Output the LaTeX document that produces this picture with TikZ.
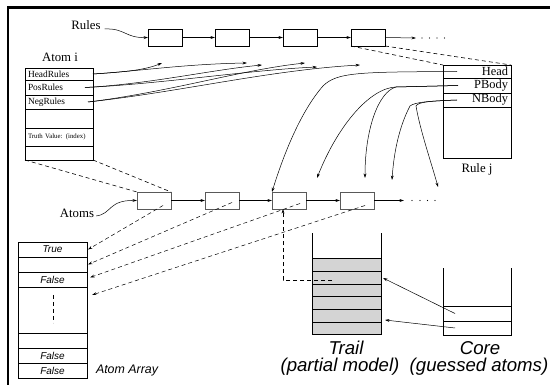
\documentclass[tikz,border=0pt]{standalone}
\usepackage{fontspec}
\setmainfont{Liberation Serif}
\setsansfont{Liberation Sans}
\usetikzlibrary{arrows.meta}
\newcommand\myfs[1]{\fontsize{#1}{#1}\selectfont}
\begin{document}
\begin{tikzpicture}[x=1pt,y=-1pt,
  every node/.style={inner sep=0pt, outer sep=0pt},
  arr/.style={-{Stealth[length=4.5pt,width=2.8pt]}, line width=0.5pt},
  dsh/.style={dash pattern=on 4pt off 3pt, line width=0.6pt},
  rbox/.style={draw, line width=0.6pt, minimum width=34pt, minimum height=17pt, anchor=north west},
  abox/.style={draw=black!65, line width=0.8pt, minimum width=34pt, minimum height=17pt, anchor=north west},
  acell/.style={draw, line width=0.6pt, anchor=north west, minimum width=68pt, text width=62pt, align=left, font=\myfs{9.4}},
  rcell/.style={draw, line width=0.6pt, anchor=north west, minimum width=68pt, text width=62pt, align=right, font=\myfs{12.4}},
  arcell/.style={draw, line width=0.6pt, anchor=north west, minimum width=69pt, font=\sffamily\itshape\myfs{10}},
  tcell/.style={draw, line width=1pt, fill=black!17, anchor=north west, minimum width=69pt, minimum height=12.67pt},
  ccell/.style={draw, line width=0.8pt, anchor=north west, minimum width=68pt},
  lbl/.style={font=\myfs{12.8}},
  big/.style={font=\sffamily\itshape\myfs{18.6}, anchor=base}
]
\useasboundingbox (0,0) rectangle (550,385);
% frame
\draw[line width=2.5pt] (8,385) -- (8,7.5) -- (550,7.5);

% labels
\node[lbl] (rulesl) at (86,25) {Rules};
\node[lbl] (atomil) at (60,57) {Atom i};
\node[lbl] (rulejl) at (477,169) {Rule j};
\node[lbl] (atomsl) at (77,213) {Atoms};

% Rules chain
\node[rbox] (rb1) at (148,29) {};
\node[rbox] (rb2) at (215,29) {};
\node[rbox] (rb3) at (283,29) {};
\node[rbox] (rb4) at (351,29) {};
\coordinate (rend) at (416,38);
\draw[arr] ([shift={(4pt,-4pt)}]rulesl.east) .. controls (125,28) and (125,38) .. (rb1.west);
\draw[arr] (rb1.east) -- (rb2.west);
\draw[arr] (rb2.east) -- (rb3.west);
\draw[arr] (rb3.east) -- (rb4.west);
\draw[arr] (rb4.east) -- (rend);
\foreach \x in {422,429.5,437,444.5} \fill (\x,38) circle (0.6pt);

% Atom i
\node[acell, minimum height=12pt] (hr) at (25,68) {HeadRules};
\node[acell, minimum height=15pt] (pr) at (25,80) {PosRules};
\node[acell, minimum height=14pt] (nr) at (25,95) {NegRules};
\node[acell, minimum height=19pt] (e1) at (25,109) {};
\node[acell, minimum height=18pt, font=\myfs{6.8}] (tv) at (25,128) {Truth Value: (index)};
\node[acell, minimum height=14pt] (e2) at (25,146) {};

% Rule j
\node[rcell, minimum height=13pt] (rh) at (443,65) {Head};
\node[rcell, minimum height=15pt] (rp) at (443,78) {PBody};
\node[rcell, minimum height=14pt] (rn) at (443,93) {NBody};
\node[rcell, minimum height=51pt] (re) at (443,107) {};

% Atoms chain
\node[abox] (ab1) at (137,192) {};
\node[abox] (ab2) at (205,192) {};
\node[abox] (ab3) at (272,192) {};
\node[abox] (ab4) at (340,192) {};
\coordinate (aend) at (404,200.5);
\draw[arr] ([shift={(2pt,-3pt)}]atomsl.east) .. controls (112,214) and (108,200) .. (ab1.west);
\draw[arr] (ab1.east) -- (ab2.west);
\draw[arr] (ab2.east) -- (ab3.west);
\draw[arr] (ab3.east) -- (ab4.west);
\draw[arr] (ab4.east) -- (aend);
\foreach \x in {412,420,427.5,435} \fill (\x,200.5) circle (0.6pt);

% pointer ends
\coordinate (p1) at (162,63);
\coordinate (p2) at (247,63);
\coordinate (p3) at (262,65);
\coordinate (p4) at (317,67);
\coordinate (p5) at (305,63);
\coordinate (p6) at (360,65);
\draw[arr] (hr.east) .. controls (125,72) and (145,70) .. (p1);
\draw[arr] (hr.east) .. controls (140,71) and (185,64) .. (p2);
\draw[arr] ([xshift=-8pt]pr.east) .. controls (150,84) and (210,70) .. (p3);
\draw[arr] ([xshift=-8pt]pr.east) .. controls (160,84) and (250,70) .. (p4);
\draw[arr] ([xshift=-5pt]nr.east) .. controls (170,92) and (240,70) .. (p5);
\draw[arr] ([xshift=-5pt]nr.east) .. controls (180,92) and (270,70) .. (p6);

% Rule j pointers
\coordinate (q1) at (317,178);
\coordinate (q2) at (365,178);
\coordinate (q3) at (392,180);
\coordinate (q4) at (438,187);
\draw[arr] ([xshift=14pt]rh.west) .. controls (360,72) and (337,72) .. (323,86) .. controls (302,110) and (285,150) .. (ab3.north west);
\draw[arr] ([xshift=15pt]rp.west) -- (396,87) .. controls (370,88) and (338,125) .. (q1);
\draw[arr] ([xshift=15pt]rp.west) -- (396,87) .. controls (378,92) and (365,130) .. (q2);
\draw[arr] ([xshift=14pt]rn.west) .. controls (430,101) and (415,102) .. (410,106) .. controls (400,125) and (394,150) .. (q3);
\draw[arr] ([xshift=14pt]rn.west) .. controls (430,101) and (418,102) .. (416,106) .. controls (420,130) and (432,165) .. (q4);

% dashed links
\draw[dsh] (e2.south west) -- (ab1.north west);
\draw[dsh] (e2.south east) -- (ab1.north east);
\draw[dsh] (rb4.south west) -- (rh.north west);
\draw[dsh] (rb4.south east) -- (rh.north east);

% Atom array
\node[arcell, minimum height=15pt] (a1) at (18,242) {True};
\node[arcell, minimum height=15pt] (a2) at (18,257) {};
\node[arcell, minimum height=15pt] (a3) at (18,272) {False};
\node[arcell, minimum height=46pt] (a4) at (18,287) {};
\node[arcell, minimum height=15pt] (a5) at (18,333) {};
\node[arcell, minimum height=15pt] (a6) at (18,348) {False};
\node[arcell, minimum height=15pt] (a7) at (18,363) {False};
\node[font=\sffamily\itshape\myfs{12.4}, anchor=west] (aal) at (96,371) {Atom Array};
\draw[dsh, line width=0.5pt] (53,295) -- (53,323);

\draw[dsh, arr] ([xshift=-8pt,yshift=-5pt]ab1.east) -- ([xshift=1pt]a1.east);
\draw[dsh, arr] ([xshift=-7pt,yshift=-2pt]ab2.east) -- ([xshift=1pt]a2.east);
\draw[dsh, arr] ([xshift=-6pt,yshift=-3pt]ab3.east) -- ([xshift=3pt,yshift=2pt]a3.east);
\draw[dsh, arr] ([xshift=-9pt,yshift=-5pt]ab4.east) -- ([xshift=5pt,yshift=-8pt]a4.north east);

% Trail
\node[tcell] (t1) at (312,259) {};
\node[tcell] (t2) at (312,271.67) {};
\node[tcell] (t3) at (312,284.33) {};
\node[tcell] (t4) at (312,297) {};
\node[tcell] (t5) at (312,309.67) {};
\node[tcell] (t6) at (312,322.33) {};
\draw[line width=0.8pt] (t1.north west) -- (312,233);
\draw[line width=0.8pt] (t1.north east) -- (381,233);
\node[big] (trl) at (346,355) {Trail};
\node[big] (pml) at (340,372) {(partial model)};

% Core
\node[ccell, minimum height=15pt] (c1) at (443,306) {};
\node[ccell, minimum height=14pt] (c2) at (443,321) {};
\draw[line width=0.8pt] (c1.north west) -- (443,268);
\draw[line width=0.8pt] (c1.north east) -- (511,268);
\node[big] (crl) at (480,355) {Core};
\node[big] (gal) at (479,372) {(guessed atoms)};

\draw[arr] ([xshift=12pt]c1.west) -- ([xshift=2pt]t2.east);
\draw[arr] ([xshift=12pt]c2.west) -- ([xshift=4pt,yshift=-4pt]t5.east);

% trail back pointer
\draw[dsh, arr] ([xshift=20pt,yshift=-2pt]t2.west) -| ([xshift=11pt]ab3.south west);
\end{tikzpicture}
\end{document}
